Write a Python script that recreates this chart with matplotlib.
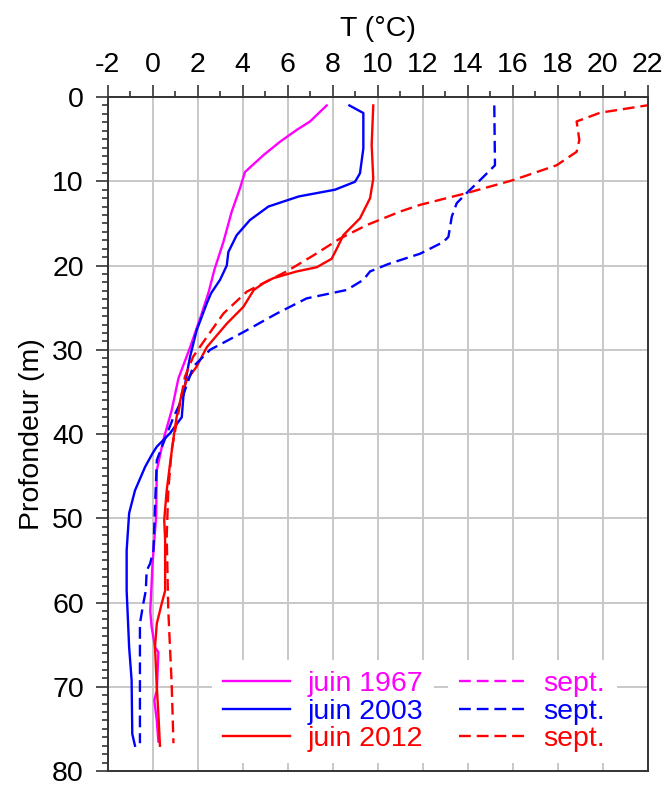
import numpy as np
import matplotlib
matplotlib.use("Agg")
import matplotlib.pyplot as plt
from matplotlib.ticker import MultipleLocator

plt.rcParams['font.family'] = ['Liberation Sans', 'DejaVu Sans']
plt.rcParams['axes.unicode_minus'] = False

# profils de température (T en °C, profondeur en m)
juin1967_z = [1.0, 2.9, 3.9, 5.3, 6.9, 8.9, 10.8, 13.6, 17.2, 20.5, 23.1, 26.0, 29.7, 33.4,
              37.2, 40.7, 44.3, 49.8, 55.4, 61.0, 62.9, 65.3, 65.9, 70.4, 71.6, 74.0, 76.5]
juin1967_T = [7.74, 7.0, 6.41, 5.67, 4.93, 4.11, 3.89, 3.52, 3.15, 2.75, 2.5, 2.15, 1.67, 1.15,
              0.85, 0.48, 0.19, 0.16, 0.0, -0.1, -0.04, 0.11, 0.26, 0.19, 0.08, 0.19, 0.26]

juin2003_z = [1.0, 1.9, 6.1, 9.06, 10.06, 11.0, 11.8, 13.0, 14.6, 16.4, 18.4, 20.0, 21.7, 23.3,
              24.5, 27.7, 30.8, 33.2, 35.6, 38.0, 39.9, 41.5, 42.3, 43.9, 46.7, 49.4, 53.8,
              58.6, 65.3, 69.2, 75.6, 77.0]
juin2003_T = [8.75, 9.37, 9.37, 9.22, 9.0, 8.11, 6.5, 5.15, 4.33, 3.74, 3.37, 3.3, 3.0, 2.6,
              2.41, 1.96, 1.67, 1.5, 1.37, 1.3, 0.78, 0.19, 0.0, -0.33, -0.78, -1.04, -1.15,
              -1.15, -1.04, -0.93, -0.9, -0.78]

juin2012_z = [1.0, 5.7, 9.7, 12.0, 14.4, 16.4, 18.0, 19.2, 20.2, 20.7, 21.5, 22.1, 22.9, 24.9,
              26.9, 29.7, 32.0, 33.6, 35.2, 38.0, 40.5, 43.5, 46.7, 50.2, 52.6, 58.6, 60.1,
              62.5, 65.3, 70.0, 73.2, 77.0]
juin2012_T = [9.81, 9.74, 9.81, 9.67, 9.22, 8.48, 8.19, 7.96, 7.3, 6.41, 5.37, 4.93, 4.5, 4.04,
              3.3, 2.41, 1.96, 1.52, 1.3, 1.07, 0.93, 0.78, 0.63, 0.52, 0.56, 0.56, 0.41,
              0.19, 0.11, 0.19, 0.26, 0.33]

# sept. 1967 : pas de profil visible sur la figure
sept1967_z = []
sept1967_T = []

sept2003_z = [1.0, 8.1, 9.86, 11.4, 12.6, 14.2, 16.6, 17.2, 18.6, 19.8, 20.7, 21.7, 22.9, 23.9,
              25.7, 27.9, 30.0, 32.0, 34.8, 36.4, 38.0, 41.1, 43.1, 48.7, 53.8, 55.4, 56.2,
              58.6, 60.1, 62.5, 76.7]
sept2003_T = [15.19, 15.22, 14.56, 13.96, 13.52, 13.3, 13.15, 12.93, 11.89, 10.5, 9.67, 9.37,
              8.63, 6.85, 5.52, 4.04, 2.56, 1.81, 1.44, 1.22, 0.93, 0.48, 0.19, 0.11, 0.04,
              -0.11, -0.26, -0.3, -0.41, -0.56, -0.56]

sept2012_z = [0.9, 1.86, 2.9, 5.1, 6.5, 8.1, 9.86, 11.4, 12.8, 13.6, 15.2, 16.8, 18.8, 20.7,
              21.9, 23.1, 25.7, 28.5, 30.8, 33.2, 36.4, 41.9, 46.7, 52.2, 60.9, 69.6, 76.7]
sept2012_T = [22.2, 19.9, 18.85, 18.97, 18.85, 17.96, 16.03, 13.96, 11.89, 11.0, 9.52, 8.33,
              7.15, 5.96, 5.07, 4.19, 3.15, 2.41, 1.81, 1.44, 1.22, 0.85, 0.7, 0.63, 0.7,
              0.85, 0.93]

fig = plt.figure(figsize=(6.65, 7.85), dpi=100)
ax = fig.add_axes([0.1617, 0.0178, 0.8120, 0.8586])

lw = 1.7
dash = (0, (5, 2.5))
h1, = ax.plot(juin1967_T, juin1967_z, color='#ff00ff', lw=lw, label='juin 1967')
h2, = ax.plot(juin2003_T, juin2003_z, color='#0000ff', lw=lw, label='juin 2003')
h3, = ax.plot(juin2012_T, juin2012_z, color='#ff0000', lw=lw, label='juin 2012')
h4, = ax.plot(sept1967_T, sept1967_z, color='#ff00ff', lw=lw, ls=dash, label='sept.')
h5, = ax.plot(sept2003_T, sept2003_z, color='#0000ff', lw=lw, ls=dash, label='sept.')
h6, = ax.plot(sept2012_T, sept2012_z, color='#ff0000', lw=lw, ls=dash, label='sept.')

ax.set_xlim(-2, 22)
ax.set_ylim(80, 0)
ax.xaxis.set_major_locator(MultipleLocator(2))
ax.xaxis.set_minor_locator(MultipleLocator(1))
ax.yaxis.set_major_locator(MultipleLocator(10))
ax.yaxis.set_minor_locator(MultipleLocator(1))
ax.xaxis.tick_top()
ax.xaxis.set_label_position('top')
ax.tick_params(which='major', direction='out', length=9, width=1.1, labelsize=20.5, color='#222222')
ax.tick_params(which='minor', direction='out', length=4.5, width=1.1, color='#222222')
ax.tick_params(axis='x', pad=5)
ax.tick_params(axis='y', pad=8)
ax.grid(True, which='major', color='#c8c8c8', lw=1.4)
ax.set_axisbelow(True)
for s in ax.spines.values():
    s.set_linewidth(1.4)
    s.set_color('#333333')

ax.set_xlabel('T (°C)', fontsize=20.5, labelpad=11)
ax.set_ylabel('Profondeur (m)', fontsize=20.5, labelpad=5)

leg_kw = dict(loc='upper left', fontsize=20.5, frameon=True, facecolor='white',
              edgecolor='none', framealpha=1, fancybox=False, borderpad=0.4,
              borderaxespad=0, handlelength=2.35, handletextpad=0.6,
              labelspacing=0.05, labelcolor='linecolor')
leg1 = ax.legend(handles=[h1, h2, h3], bbox_to_anchor=(0.1935, 0.165), **leg_kw)
ax.add_artist(leg1)
ax.legend(handles=[h4, h5, h6], bbox_to_anchor=(0.6306, 0.165), **leg_kw)

fig.savefig('out.png', dpi=100)
